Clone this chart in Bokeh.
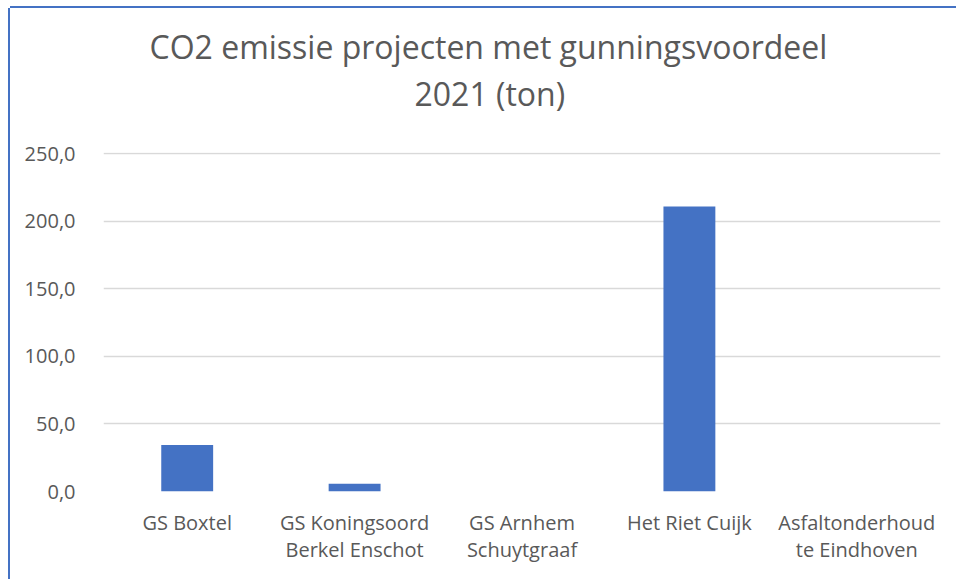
from bokeh.plotting import figure
from bokeh.models import FactorRange, Range1d, CustomJSTickFormatter, FixedTicker, Title, ColumnDataSource
from bokeh.embed import file_html
from bokeh.resources import INLINE

categories = ["GS Boxtel", "GS Koningsoord\nBerkel Enschot", "GS Arnhem\nSchuytgraaf", "Het Riet Cuijk", "Asfaltonderhoud\nte Eindhoven"]
values = [34.5, 5.7, 0.0, 211.0, 0.0]
y_ticks = [0, 50, 100, 150, 200, 250]
title_lines = ["CO2 emissie projecten met gunningsvoordeel", "2021 (ton)"]

TXT = "#595959"
FONT = "Open Sans"

src = ColumnDataSource(dict(cat=categories, val=values))

p = figure(width=946, height=571, x_range=FactorRange(*categories), y_range=Range1d(0, 251),
           output_backend="svg", toolbar_location=None,
           min_border_left=93, min_border_right=16, min_border_top=144, min_border_bottom=88)
p.margin = (8, 0, 0, 10)
p.styles = {"box-shadow": "-2px 0 0 0 #4472C4, 0 -2px 0 0 #4472C4"}
p.outline_line_color = None
p.background_fill_color = "white"
p.border_fill_color = "white"

p.vbar(x="cat", top="val", width=0.31, source=src, fill_color="#4472C4", line_color=None)

p.xgrid.grid_line_color = None
p.ygrid.grid_line_color = "#D9D9D9"
p.ygrid.grid_line_width = 1.3
p.ygrid.level = "underlay"

p.yaxis.ticker = FixedTicker(ticks=y_ticks)
p.yaxis.formatter = CustomJSTickFormatter(code="return tick.toFixed(1).replace('.', ',');")
for ax in (p.xaxis, p.yaxis):
    ax.axis_line_color = None
    ax.major_tick_line_color = None
    ax.minor_tick_line_color = None
    ax.major_label_text_color = TXT
    ax.major_label_text_font = FONT
    ax.major_label_text_font_size = "20px"
p.yaxis.major_label_standoff = 22
p.xaxis.major_label_standoff = 11
p.xaxis.major_label_text_line_height = 1.0

# spacer between the title block and the plot frame
p.add_layout(Title(text=" ", text_font_size="1px", standoff=34), "above")
offsets = [46, 311]
for t, o in reversed(list(zip(title_lines, offsets))):
    p.add_layout(Title(text=t, align="left", offset=o, text_font=FONT, text_font_size="32px",
                       text_color=TXT, text_font_style="normal", standoff=2), "above")

open("out.html", "w").write(file_html(p, INLINE))
